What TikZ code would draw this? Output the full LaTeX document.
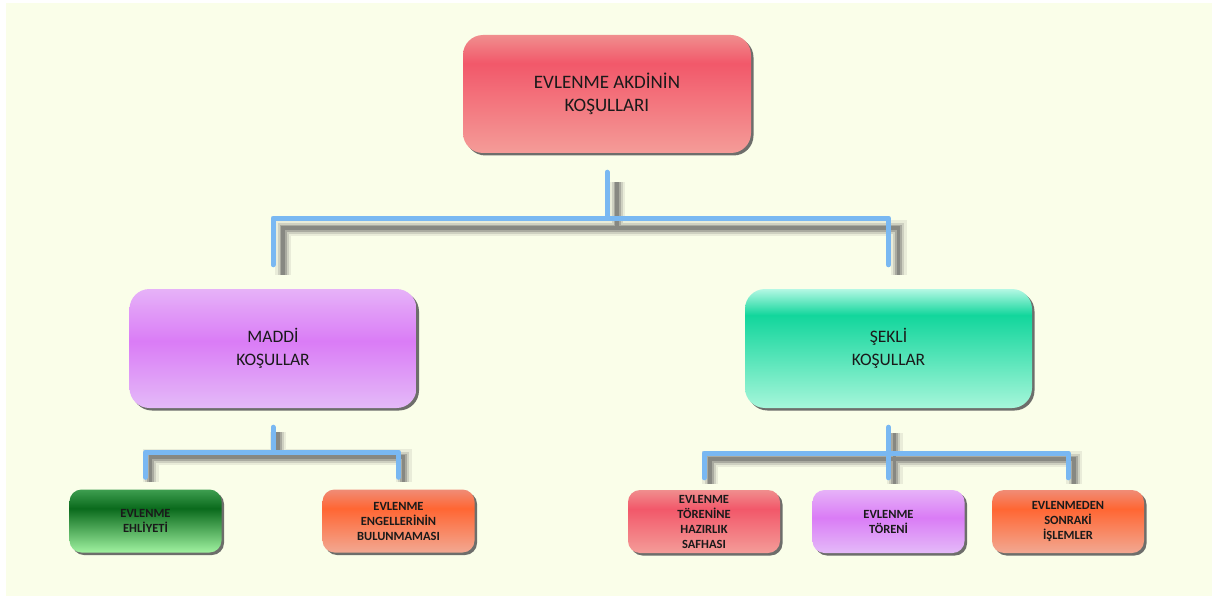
\documentclass[tikz,border=0pt]{standalone}
\usepackage{fontspec}
\setmainfont{Carlito}
\usetikzlibrary{shadows,calc}
\definecolor{bgc}{HTML}{FAFEE9}
\definecolor{connblue}{HTML}{79B8F2}
\definecolor{shc}{HTML}{555555}
\definecolor{txt}{HTML}{1A1A1A}
% red
\definecolor{redT}{HTML}{F08E8E}
\definecolor{redM}{HTML}{F2586A}
\definecolor{redB}{HTML}{F49C98}
% purple
\definecolor{purT}{HTML}{E6B2F8}
\definecolor{purM}{HTML}{DA7CF6}
\definecolor{purB}{HTML}{E4BAF8}
% teal
\definecolor{tealT}{HTML}{B4F8E4}
\definecolor{tealM}{HTML}{12D69C}
\definecolor{tealB}{HTML}{A6F6DA}
% dark green
\definecolor{grnT}{HTML}{3E9E50}
\definecolor{grnM}{HTML}{0A6A1C}
\definecolor{grnB}{HTML}{A0F2A0}
% orange
\definecolor{orgT}{HTML}{F08C76}
\definecolor{orgM}{HTML}{FF6633}
\definecolor{orgB}{HTML}{F2A892}
\pgfdeclareverticalshading{redsh}{100bp}{color(0bp)=(redB); color(25bp)=(redB); color(63bp)=(redM); color(75bp)=(redT); color(100bp)=(redT)}
\pgfdeclareverticalshading{redshb}{100bp}{color(0bp)=(redB); color(25bp)=(redB); color(60bp)=(redM); color(75bp)=(redT); color(100bp)=(redT)}
\pgfdeclareverticalshading{pursh}{100bp}{color(0bp)=(purB); color(25bp)=(purB); color(53bp)=(purM); color(75bp)=(purT); color(100bp)=(purT)}
\pgfdeclareverticalshading{tealsh}{100bp}{color(0bp)=(tealB); color(25bp)=(tealB); color(64bp)=(tealM); color(75bp)=(tealT); color(100bp)=(tealT)}
\pgfdeclareverticalshading{grnsh}{100bp}{color(0bp)=(grnB); color(25bp)=(grnB); color(60bp)=(grnM); color(75bp)=(grnT); color(100bp)=(grnT)}
\pgfdeclareverticalshading{orgsh}{100bp}{color(0bp)=(orgB); color(25bp)=(orgB); color(60bp)=(orgM); color(75bp)=(orgT); color(100bp)=(orgT)}
\begin{document}
\begin{tikzpicture}[x=1pt,y=-1pt,
  anybox/.style={shade, shading=#1, shading angle=0, draw=none, align=center, inner sep=0pt,
    text=txt, drop shadow={shadow xshift=2.5pt, shadow yshift=-2.5pt, fill=shc, opacity=.85}},
  bigbox/.style={anybox=#1, minimum width=288pt, minimum height=118pt, rounded corners=20pt,
    font=\fontsize{19}{23}\selectfont},
  midbox/.style={anybox=#1, minimum width=287pt, minimum height=119pt, rounded corners=20pt,
    font=\fontsize{17.5}{23}\selectfont},
  smallbox/.style={anybox=#1, minimum width=152pt, minimum height=63pt, rounded corners=12pt,
    font=\fontsize{12.5}{15}\selectfont\bfseries},
  conn/.style={draw=connblue, line width=5pt, line cap=round, line join=round,
    preaction={draw=shc, line width=16pt, opacity=.10, transform canvas={shift={(#1,-#1)}}},
    preaction={draw=shc, line width=11pt, opacity=.18, transform canvas={shift={(#1,-#1)}}},
    preaction={draw=shc, line width=7pt, opacity=.30, transform canvas={shift={(#1,-#1)}}},
    preaction={draw=shc, line width=3.5pt, opacity=.40, transform canvas={shift={(#1,-#1)}}}}
]
\useasboundingbox (0,0) rectangle (1212,596);
\fill[white] (0,0) rectangle (1212,596);
\fill[bgc] (6,3) rectangle (1212,596);

\node[bigbox=redsh] (top) at (607,94) {EVLENME AKDİNİN\\KOŞULLARI};
\node[midbox=pursh] (L) at (273,348.5) {MADDİ\\KOŞULLAR};
\node[midbox=tealsh] (R) at (888.5,348.5) {ŞEKLİ\\KOŞULLAR};
\node[smallbox=grnsh] (L1) at (145.5,521) {EVLENME\\EHLİYETİ};
\node[smallbox=orgsh] (L2) at (398.5,521) {EVLENME\\ENGELLERİNİN\\BULUNMAMASI};
\node[smallbox=redshb] (R1) at (704,521.5) {EVLENME\\TÖRENİNE\\HAZIRLIK\\SAFHASI};
\node[smallbox=pursh] (R2) at (888.5,521.5) {EVLENME\\TÖRENİ};
\node[smallbox=orgsh] (R3) at (1068,521.5) {EVLENMEDEN\\SONRAKİ\\İŞLEMLER};

\coordinate (j1) at (607,218);
\coordinate (j2) at (273,452);
\coordinate (j3) at (888.5,453);

\draw[conn=10pt] ([yshift=-19pt]top.south) -- (j1)
  ([yshift=24pt]L.north) -- (L.north |- j1) -- (R.north |- j1) -- ([yshift=24pt]R.north);
\draw[conn=5pt] ([yshift=-19pt]L.south) -- (j2)
  ([yshift=12pt]L1.north) -- (L1.north |- j2) -- (L2.north |- j2) -- ([yshift=12pt]L2.north);
\draw[conn=6pt] ([yshift=-19pt]R.south) -- ([yshift=12pt]R2.north)
  ([yshift=12pt]R1.north) -- (R1.north |- j3) -- (R3.north |- j3) -- ([yshift=12pt]R3.north);
\end{tikzpicture}
\end{document}
